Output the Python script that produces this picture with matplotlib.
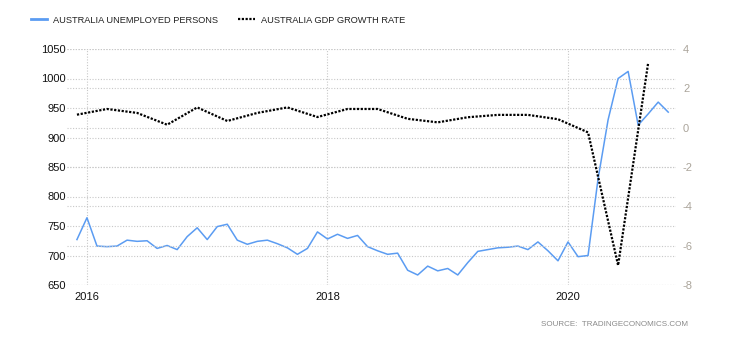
import matplotlib
matplotlib.use('Agg')
import matplotlib.pyplot as plt
from matplotlib.lines import Line2D
import numpy as np

plt.rcParams['font.family'] = ['Liberation Sans', 'DejaVu Sans']
plt.rcParams['axes.unicode_minus'] = False

# Australia unemployed persons (thousands), monthly Dec 2015 - Nov 2020
unemployed = [727, 764, 716, 715, 716, 726, 724, 725, 712, 717,
              710, 732, 747, 727, 749, 753, 726, 719, 724, 726,
              720, 713, 702, 712, 740, 728, 736, 729, 734, 715,
              708, 702, 704, 675, 667, 682, 674, 678, 667, 688,
              707, 710, 713, 714, 716, 710, 723, 708, 691, 723,
              698, 700, 830, 930, 1000, 1012, 921, 940, 960, 943]
unemp_dates = 2015 + 11 / 12 + np.arange(len(unemployed)) / 12

# Australia GDP growth rate (% QoQ), quarterly Q4 2015 - Q3 2020
gdp = [0.66, 0.95, 0.75, 0.15, 1.03, 0.34, 0.75, 1.03, 0.54, 0.95,
       0.95, 0.45, 0.27, 0.53, 0.65, 0.65, 0.43, -0.24, -7.0, 3.3]
gdp_dates = 2015 + 11 / 12 + np.arange(len(gdp)) * 0.25

year_ticks = [2016, 2018, 2020]
left_ticks = [650, 700, 750, 800, 850, 900, 950, 1000, 1050]
right_ticks = [-8, -6, -4, -2, 0, 2, 4]

blue = '#5b9cf2'
grid_kw = dict(color='#c8c8c8', linestyle=(0, (1, 1.5)), linewidth=0.8)

fig = plt.figure(figsize=(7.3, 3.4), dpi=100)
ax = fig.add_axes([67 / 730, 55 / 340, 609 / 730, 236 / 340])
ax2 = ax.twinx()

ax.plot(unemp_dates, unemployed, color=blue, lw=1.1, zorder=3)
ax2.plot(gdp_dates, gdp, color='black', lw=1.6, linestyle=(0, (1, 0.7)), zorder=3)

ax.set_xlim(2015.834, 2020.898)
ax.set_ylim(650, 1050)
ax2.set_ylim(-8, 4)
ax.set_xticks(year_ticks)
ax.set_xticklabels([str(y) for y in year_ticks])
ax.set_yticks(left_ticks)
ax2.set_yticks(right_ticks)

ax.grid(True, axis='both', **grid_kw)
ax2.grid(True, axis='y', **grid_kw)
ax.set_axisbelow(True)
ax2.set_axisbelow(True)

for a in (ax, ax2):
    for s in a.spines.values():
        s.set_visible(False)
ax.tick_params(axis='y', length=0, pad=1, labelsize=8, labelcolor='#111111')
ax.tick_params(axis='x', length=0, pad=5, labelsize=8, labelcolor='#111111')
ax2.tick_params(axis='y', length=0, pad=5, labelsize=8, labelcolor='#aaa49a')

handles = [Line2D([], [], color=blue, lw=2),
           Line2D([], [], color='black', lw=1.6, linestyle=(0, (1, 0.7)))]
fig.legend(handles, ['AUSTRALIA UNEMPLOYED PERSONS', 'AUSTRALIA GDP GROWTH RATE'],
           loc='center left', bbox_to_anchor=(0.042, 0.941), ncol=2, frameon=False,
           fontsize=6.7, handlelength=1.8, handletextpad=0.6, columnspacing=2.2,
           labelcolor='#222222', borderaxespad=0, borderpad=0)

fig.text(688 / 730, 1 - 325 / 340, 'SOURCE:  TRADINGECONOMICS.COM', ha='right', va='center',
         fontsize=5.8, color='#8a8a8a')

fig.savefig('out.png', dpi=100)
